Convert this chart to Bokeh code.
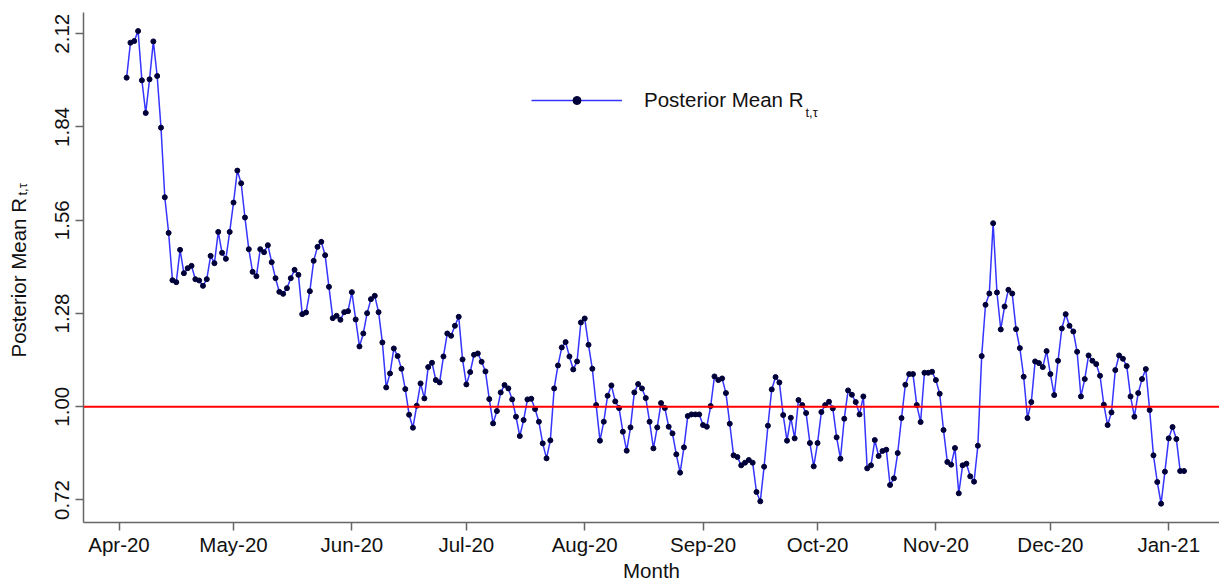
import math
import pandas as pd
from bokeh.plotting import figure
from bokeh.layouts import row
from bokeh.models import (Range1d, FixedTicker, DatetimeTickFormatter, PrintfTickFormatter,
                          Span, Label, Legend, LegendItem)
from bokeh.core.properties import value
from bokeh.embed import file_html
from bokeh.resources import INLINE

# ---------------- data ----------------
start_date = "2020-04-03"
posterior_mean = [
    1.988, 2.093, 2.098, 2.128, 1.980, 1.882, 1.983, 2.097, 1.993, 1.838,
    1.629, 1.522, 1.380, 1.374, 1.471, 1.401, 1.416, 1.423, 1.383, 1.379,
    1.363, 1.383, 1.453, 1.431, 1.525, 1.462, 1.444, 1.525, 1.613, 1.709,
    1.671, 1.568, 1.473, 1.405, 1.392, 1.473, 1.464, 1.485, 1.434, 1.386,
    1.345, 1.339, 1.356, 1.386, 1.411, 1.396, 1.278, 1.283, 1.347, 1.438,
    1.480, 1.495, 1.455, 1.360, 1.266, 1.273, 1.261, 1.284, 1.287, 1.344,
    1.262, 1.181, 1.220, 1.281, 1.323, 1.333, 1.284, 1.193, 1.058, 1.100,
    1.175, 1.152, 1.114, 1.053, 0.976, 0.937, 1.003, 1.070, 1.025, 1.119,
    1.132, 1.080, 1.073, 1.151, 1.220, 1.213, 1.243, 1.270, 1.142, 1.067,
    1.104, 1.156, 1.160, 1.135, 1.106, 1.023, 0.950, 0.987, 1.043, 1.065,
    1.055, 1.022, 0.970, 0.912, 0.960, 1.022, 1.024, 0.993, 0.955, 0.890,
    0.845, 0.899, 1.055, 1.124, 1.178, 1.194, 1.151, 1.112, 1.136, 1.253,
    1.265, 1.186, 1.114, 1.005, 0.898, 0.955, 1.033, 1.064, 1.016, 0.996,
    0.925, 0.868, 0.938, 1.043, 1.068, 1.055, 1.026, 0.955, 0.875, 0.938,
    1.011, 0.996, 0.940, 0.920, 0.857, 0.802, 0.878, 0.972, 0.977, 0.977,
    0.977, 0.945, 0.940, 1.002, 1.091, 1.080, 1.085, 1.041, 0.949, 0.854,
    0.849, 0.824, 0.832, 0.840, 0.832, 0.744, 0.716, 0.820, 0.943, 1.052,
    1.089, 1.073, 0.975, 0.898, 0.967, 0.905, 1.020, 1.005, 0.981, 0.891,
    0.821, 0.891, 0.984, 1.005, 1.015, 0.995, 0.908, 0.844, 0.964, 1.049,
    1.036, 1.014, 0.977, 1.031, 0.815, 0.824, 0.900, 0.852, 0.867, 0.871,
    0.765, 0.785, 0.861, 0.966, 1.066, 1.098, 1.098, 1.005, 0.954, 1.102,
    1.102, 1.105, 1.080, 1.039, 0.930, 0.834, 0.826, 0.876, 0.740, 0.824,
    0.829, 0.791, 0.775, 0.883, 1.152, 1.306, 1.340, 1.551, 1.343, 1.232,
    1.301, 1.351, 1.340, 1.233, 1.176, 1.090, 0.966, 1.014, 1.136, 1.131,
    1.119, 1.167, 1.098, 1.035, 1.138, 1.235, 1.278, 1.243, 1.226, 1.165,
    1.031, 1.083, 1.154, 1.138, 1.128, 1.093, 1.006, 0.945, 0.983, 1.110,
    1.154, 1.144, 1.122, 1.031, 0.970, 1.041, 1.083, 1.113, 0.990, 0.854,
    0.774, 0.709, 0.805, 0.905, 0.939, 0.903, 0.807, 0.807,
]
month_ticks = ["2020-04-01", "2020-05-01", "2020-06-01", "2020-07-01", "2020-08-01",
               "2020-09-01", "2020-10-01", "2020-11-01", "2020-12-01", "2021-01-01"]
y_ticks = [0.72, 1.00, 1.28, 1.56, 1.84, 2.12]
reference_level = 1.0
series_name = "Posterior Mean R"
subscript = "t,\u03c4"
x_title = "Month"

dates = pd.date_range(start_date, periods=len(posterior_mean), freq="D")

def ms(ts):
    return pd.Timestamp(ts).value / 1e6

origin = pd.Timestamp("2020-04-01")
x_start = ms(origin - pd.Timedelta(days=9.3))
x_end = ms(origin + pd.Timedelta(days=288.3))

FONT = "Liberation Sans"
FS = "20.5px"
SUB_FS = "13px"
TEXT_COLOR = "#111111"
LINE_COLOR = "#3535ff"
DOT_COLOR = "#000038"
AXIS_COLOR = "#666666"
H = 584
LAB_W = 40
FRAME_BOTTOM = 523  # page y of the plot frame's bottom edge

# ---------------- main plot ----------------
p = figure(width=1219 - LAB_W, height=H, x_axis_type="datetime",
           x_range=Range1d(x_start, x_end), y_range=Range1d(0.6524, 2.1837),
           output_backend="svg", toolbar_location=None, title=None,
           min_border_left=83 - LAB_W, min_border_right=0, min_border_top=12,
           min_border_bottom=H - FRAME_BOTTOM)
p.outline_line_color = None
p.grid.visible = False

line_r = p.line(dates, posterior_mean, line_color=LINE_COLOR, line_width=1.5)
dot_r = p.scatter(dates, posterior_mean, size=5, fill_color=DOT_COLOR, line_color=DOT_COLOR)

p.add_layout(Span(location=reference_level, dimension="width", line_color="#ff0000", line_width=2))

xa = p.xaxis[0]
xa.ticker = FixedTicker(ticks=[ms(t) for t in month_ticks])
fmt = "%b-%y"
xa.formatter = DatetimeTickFormatter(microseconds=fmt, milliseconds=fmt, seconds=fmt, minsec=fmt,
                                     minutes=fmt, hourmin=fmt, hours=fmt, days=fmt, months=fmt, years=fmt)
xa.axis_label = x_title
xa.axis_label_text_font = FONT
xa.axis_label_text_font_size = FS
xa.axis_label_text_font_style = "normal"
xa.axis_label_text_color = TEXT_COLOR
xa.axis_label_standoff = 0

ya = p.yaxis[0]
ya.ticker = FixedTicker(ticks=y_ticks)
ya.formatter = PrintfTickFormatter(format="%.2f")
ya.major_label_orientation = "vertical"

for ax in (xa, ya):
    ax.axis_line_color = AXIS_COLOR
    ax.axis_line_width = 1.5
    ax.major_tick_line_color = AXIS_COLOR
    ax.major_tick_line_width = 1.5
    ax.major_tick_out = 8
    ax.major_tick_in = 0
    ax.minor_tick_line_color = None
    ax.major_label_text_font = FONT
    ax.major_label_text_font_size = FS
    ax.major_label_text_color = TEXT_COLOR
xa.major_label_standoff = 2
ya.major_label_standoff = 6

legend = Legend(items=[LegendItem(label=value(series_name), renderers=[line_r, dot_r])],
                location=(448, 410), glyph_width=91, glyph_height=20, label_standoff=22,
                padding=0, spacing=0, margin=0, border_line_color=None, background_fill_alpha=0,
                label_text_font=FONT, label_text_font_size=FS, label_text_color=TEXT_COLOR)
p.add_layout(legend)
p.add_layout(Label(x=722, y=410, x_units="screen", y_units="screen", text=subscript,
                   text_font=FONT, text_font_size=SUB_FS, text_color=TEXT_COLOR,
                   text_align="left", text_baseline="alphabetic"))

# ---------------- y-axis title strip (frame bottom aligned with the plot's) ----------------
lab = figure(width=LAB_W, height=H, x_range=Range1d(0, LAB_W), y_range=Range1d(0, H),
             output_backend="svg", toolbar_location=None, title=None,
             min_border=0, x_axis_location=None, y_axis_location=None)
lab.outline_line_color = None
lab.grid.visible = False
lab.xgrid.visible = False
lab.ygrid.visible = False
lab.add_layout(Label(x=18, y=FRAME_BOTTOM - 358, x_units="screen", y_units="screen", text=series_name,
                     angle=math.pi / 2, text_font=FONT, text_font_size=FS, text_color=TEXT_COLOR,
                     text_align="left", text_baseline="alphabetic"))
lab.add_layout(Label(x=22, y=FRAME_BOTTOM - 196, x_units="screen", y_units="screen", text=subscript,
                     angle=math.pi / 2, text_font=FONT, text_font_size=SUB_FS, text_color=TEXT_COLOR,
                     text_align="left", text_baseline="alphabetic"))

layout = row(lab, p)
open("out.html", "w").write(file_html(layout, INLINE))
